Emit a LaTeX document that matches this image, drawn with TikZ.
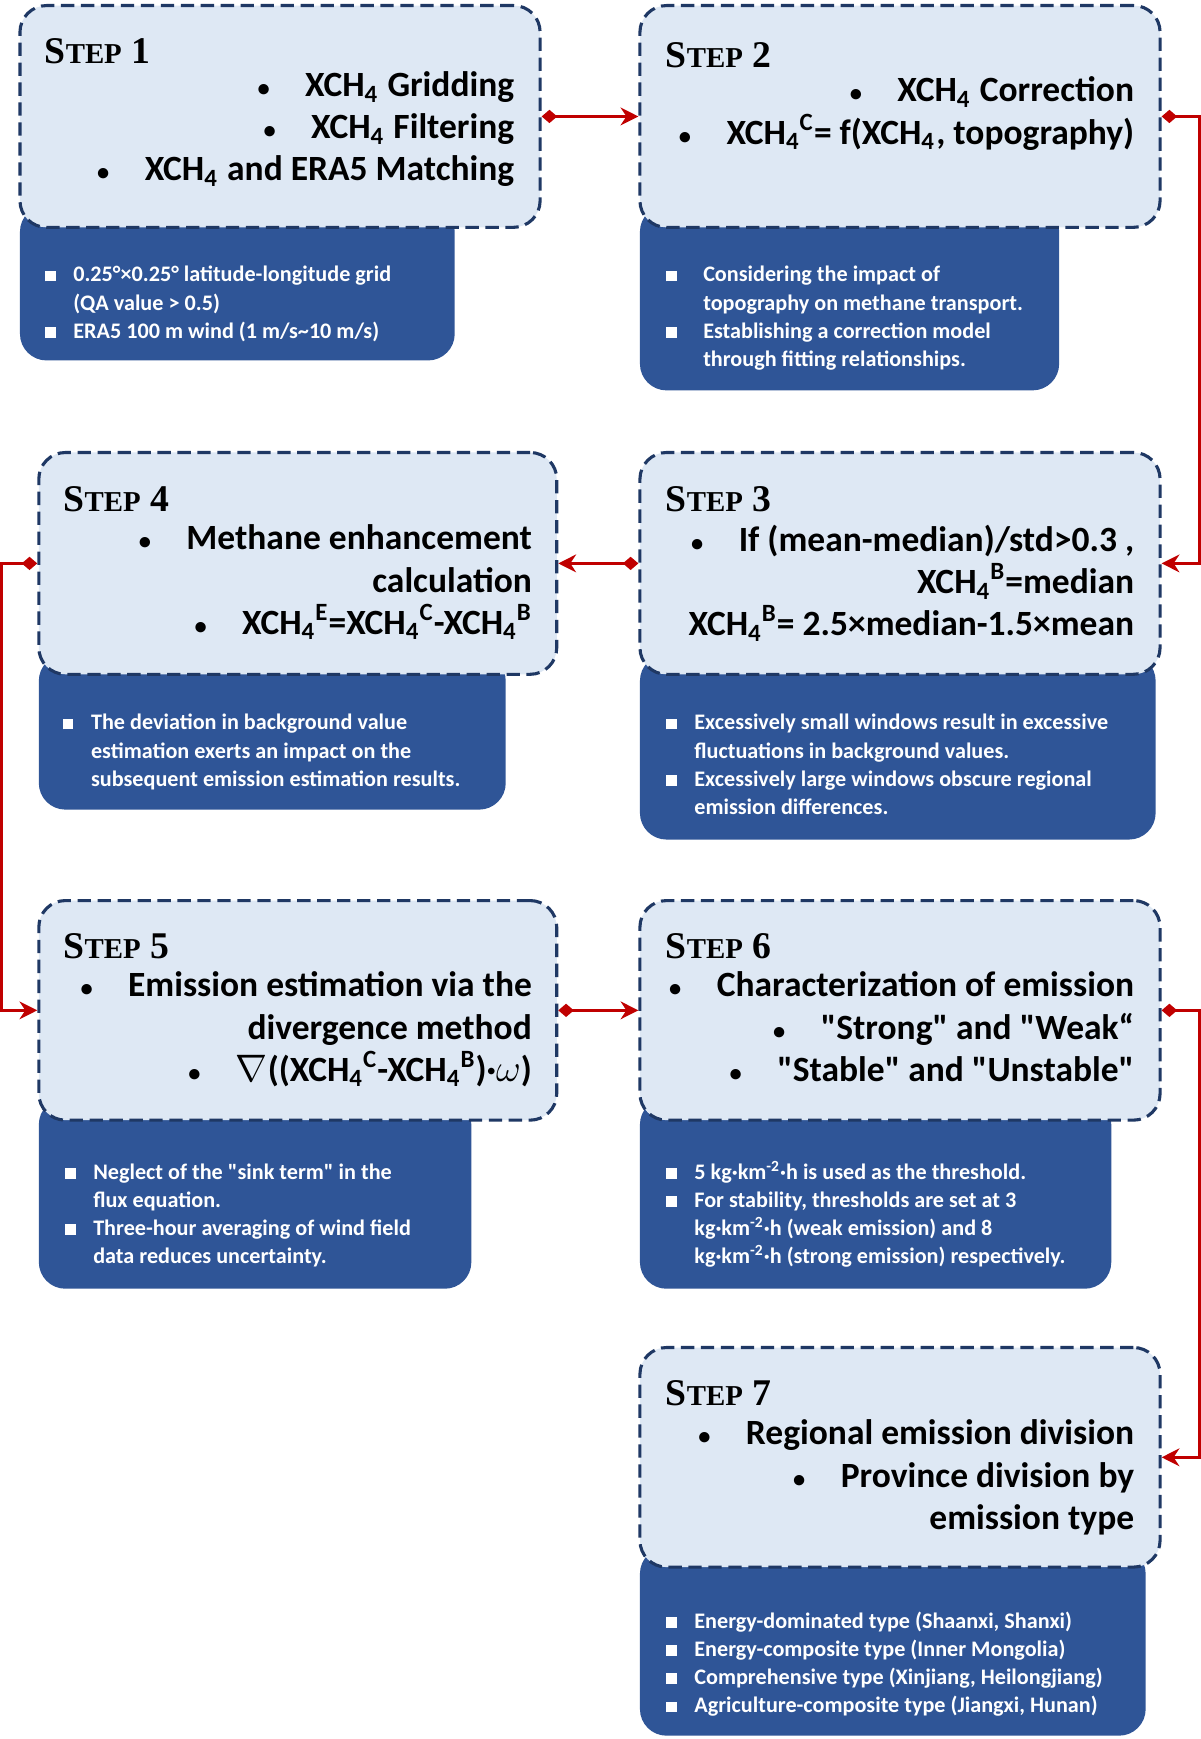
\documentclass[tikz,border=0pt]{standalone}
\usepackage{fontspec}
\setmainfont{Carlito}
\usetikzlibrary{arrows.meta}
\definecolor{lb}{HTML}{DEE8F4}
\definecolor{nv}{HTML}{1F3864}
\definecolor{bb}{HTML}{2F5597}
\definecolor{rd}{HTML}{C00000}
\newcommand{\xc}[1]{XCH\textsubscript{4}\textsuperscript{#1}}
\newcommand{\sq}{\rule[0.05ex]{1ex}{1ex}}
\newcommand{\bl}{{\fontsize{11}{11}\selectfont•}}
\newcommand{\qd}{\textquotedbl}
\newcommand{\stp}[1]{{\fontspec{Liberation Serif}\bfseries\fontsize{17}{17}\selectfont S\fontsize{13}{13}\selectfont TEP\fontsize{17}{17}\selectfont\ #1}}
\begin{document}
\begin{tikzpicture}[x=0.5pt,y=-0.5pt,
 light/.style={draw=nv,dash pattern=on 6pt off 3pt,line width=1.4pt,fill=lb,rounded corners=12pt},
 blue/.style={fill=bb,rounded corners=12pt},
 bt/.style={anchor=north east,align=right,inner sep=0,font=\fontsize{16}{19}\selectfont\bfseries},
 wt/.style={anchor=north west,align=left,inner sep=0,text=white,font=\fontsize{10}{12.7}\selectfont\bfseries},
 tt/.style={anchor=west,inner sep=0},
 con/.style={draw=rd,line width=1.5pt,{Diamond[length=7pt,width=6pt]}-{Stealth[length=8pt,width=8pt]}}]
\useasboundingbox (0,0) rectangle (1082,1568);
% blue boxes
\fill[blue] (18,185) rectangle (410,325);
\fill[blue] (577,185) rectangle (955,352);
\fill[blue] (35,590) rectangle (456,730);
\fill[blue] (577,590) rectangle (1042,757);
\fill[blue] (35,990) rectangle (425,1162);
\fill[blue] (577,990) rectangle (1002,1162);
\fill[blue] (577,1395) rectangle (1033,1565);
% light boxes
\node[light,minimum width=234.5pt,minimum height=100pt] (s1) at (252.5,105) {};
\node[light,minimum width=234.5pt,minimum height=100pt] (s2) at (811.5,105) {};
\node[light,minimum width=233.5pt,minimum height=100pt] (s4) at (268.5,508) {};
\node[light,minimum width=234.5pt,minimum height=100pt] (s3) at (811.5,508) {};
\node[light,minimum width=233.5pt,minimum height=99pt] (s5) at (268.5,911) {};
\node[light,minimum width=234.5pt,minimum height=99pt] (s6) at (811.5,911) {};
\node[light,minimum width=234.5pt,minimum height=99pt] (s7) at (811.5,1314) {};
% titles
\node[tt] (t1) at (40,46) {\stp{1}};
\node[tt] (t2) at (600,50) {\stp{2}};
\node[tt] (t4) at (57,450) {\stp{4}};
\node[tt] (t3) at (600,450) {\stp{3}};
\node[tt] (t5) at (57,853) {\stp{5}};
\node[tt] (t6) at (600,853) {\stp{6}};
\node[tt] (t7) at (600,1256) {\stp{7}};
% main texts
\node[bt] (x1) at (464,64) {\bl\quad \xc{} Gridding\\ \bl\quad \xc{} Filtering\\ \bl\quad \xc{} and ERA5 Matching};
\node[bt] (x2) at (1023,69) {\bl\quad \xc{} Correction\\ \bl\quad \xc{C}= f(\xc{}, topography)};
\node[bt] (x4) at (480,473) {\bl\quad Methane enhancement\\ calculation\\ \bl\quad \xc{E}=\xc{C}-\xc{B}};
\node[bt] (x3) at (1023,473) {\bl\quad If (mean-median)/std>0.3 ,\\ \xc{B}=median\\ \xc{B}= 2.5×median-1.5×mean};
\node[bt] (x5) at (480,876) {\bl\quad Emission estimation via the\\ divergence method\\ \bl\quad $\nabla$((\xc{C}-\xc{B})·$\omega$)};
\node[bt] (x6) at (1023,876) {\bl\quad Characterization of emission\\ \bl\quad \qd Strong\qd{} and \qd Weak“\\ \bl\quad \qd Stable\qd{} and \qd Unstable\qd};
\node[bt] (x7) at (1023,1280) {\bl\quad Regional emission division\\ \bl\quad Province division by\\ emission type};
% blue texts
\node[wt] (w1) at (40,236) {\begin{tabular}{@{}l@{\hspace{0.8em}}l@{}}\sq & 0.25°×0.25° latitude-longitude grid\\ & (QA value > 0.5)\\ \sq & ERA5 100 m wind  (1 m/s\textasciitilde10 m/s)\end{tabular}};
\node[wt] (w2) at (600,236) {\begin{tabular}{@{}l@{\hspace{1.2em}}l@{}}\sq & Considering the impact of\\ & topography on methane transport.\\ \sq & Establishing a correction model\\ & through fitting relationships.\end{tabular}};
\node[wt] (w4) at (56,640) {\begin{tabular}{@{}l@{\hspace{0.8em}}l@{}}\sq & The deviation in background value\\ & estimation exerts an impact on the\\ & subsequent emission estimation results.\end{tabular}};
\node[wt] (w3) at (600,640) {\begin{tabular}{@{}l@{\hspace{0.8em}}l@{}}\sq & Excessively small windows result in excessive\\ & fluctuations in background values.\\ \sq & Excessively large windows obscure regional\\ & emission differences.\end{tabular}};
\node[wt] (w5) at (58,1045) {\begin{tabular}{@{}l@{\hspace{0.8em}}l@{}}\sq & Neglect of the \qd sink term\qd{} in the\\ & flux equation.\\ \sq & Three-hour averaging of wind field\\ & data reduces uncertainty.\end{tabular}};
\node[wt] (w6) at (600,1045) {\begin{tabular}{@{}l@{\hspace{0.8em}}l@{}}\sq & 5 kg·km\textsuperscript{-2}·h is used as the threshold.\\ \sq & For stability, thresholds are set at 3\\ & kg·km\textsuperscript{-2}·h (weak emission) and 8\\ & kg·km\textsuperscript{-2}·h (strong emission) respectively.\end{tabular}};
\node[wt] (w7) at (600,1450) {\begin{tabular}{@{}l@{\hspace{0.8em}}l@{}}\sq & Energy-dominated type (Shaanxi, Shanxi)\\ \sq & Energy-composite type (Inner Mongolia)\\ \sq & Comprehensive type (Xinjiang, Heilongjiang)\\ \sq & Agriculture-composite type (Jiangxi, Hunan)\end{tabular}};
% connectors
\draw[con] (s1.east) -- (s2.west);
\draw[con] (s2.east) -- ++(34,0) |- (s3.east);
\draw[con] (s3.west) -- (s4.east);
\draw[con] (s4.west) -- ++(-32,0) |- (s5.west);
\draw[con] (s5.east) -- (s6.west);
\draw[con] (s6.east) -- ++(34,0) |- (s7.east);
\end{tikzpicture}
\end{document}
